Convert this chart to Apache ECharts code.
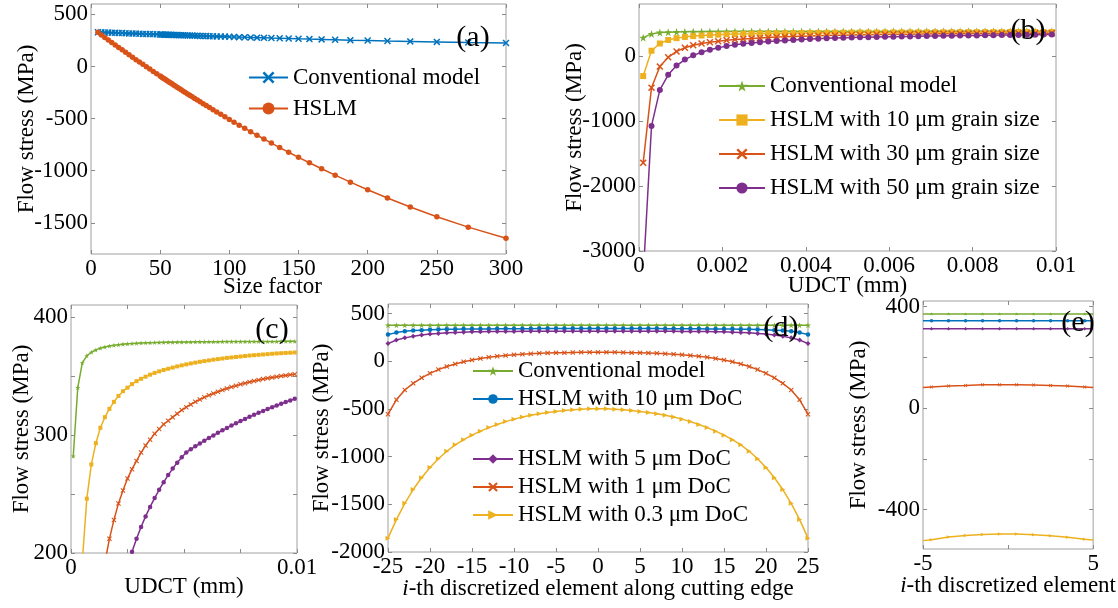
<!DOCTYPE html>
<html>
<head>
<meta charset="utf-8">
<title>Flow stress</title>
<script src="https://cdn.jsdelivr.net/npm/echarts@6/dist/echarts.min.js"></script>
<style>
  html, body { margin: 0; padding: 0; background: #fff; }
  #chart { width: 1118px; height: 608px; }
</style>
</head>
<body>
<div id="chart"></div>
<script>
// (a) flow stress vs size factor
const sizeFactor = [300, 272.7, 250, 230.8, 214.3, 200, 187.5, 176.5, 166.7, 157.9, 150, 142.9, 136.4, 130.4, 125, 120, 115.4, 111.1, 107.1, 103.4, 100,
  96.8, 93.8, 90.9, 88.2, 85.7, 83.3, 81.1, 78.9, 76.9, 75, 73.2, 71.4, 69.8, 68.2, 66.7, 65.2, 63.8, 62.5, 61.2, 60, 58.8, 57.7, 56.6, 55.6, 54.5, 53.6, 52.6, 51.7, 50.8, 50,
  47.5, 45, 42.5, 40, 37.5, 35, 32.5, 30, 27.5, 25, 22.5, 20, 17.5, 15, 12.5, 10, 7.5, 5];
const convA = [225, 230, 236, 241, 245, 250, 253, 257, 260, 263, 266, 269, 271, 273, 275, 277, 279, 281, 282, 284, 285,
  287, 288, 289, 290, 291, 292, 293, 294, 295, 296, 297, 298, 298, 299, 300, 300, 301, 302, 302, 303, 303, 304, 304, 305, 305, 306, 306, 307, 307, 307,
  309, 310, 311, 312, 313, 315, 316, 317, 318, 319, 321, 322, 323, 324, 326, 327, 328, 329];
const hslmA = [-1648, -1542, -1442, -1349, -1262, -1183, -1110, -1043, -982, -924, -872, -823, -778, -735, -696, -660, -626, -593, -563, -534, -508,
  -483, -459, -436, -415, -394, -375, -357, -339, -322, -306, -291, -276, -263, -249, -237, -224, -212, -201, -190, -179, -169, -159, -150, -141, -131, -123, -115, -107, -99, -92,
  -70, -47, -25, -2, 21, 43, 66, 89, 113, 136, 160, 183, 207, 231, 255, 279, 303, 330];

// (b) and (c) flow stress vs UDCT (mm)
const udct = [0.0001, 0.0003, 0.0005, 0.0007, 0.0009, 0.0011, 0.0013, 0.0015, 0.0017, 0.0019, 0.0021, 0.0023, 0.0025, 0.0027, 0.0029, 0.0031, 0.0033,
  0.0035, 0.0037, 0.0039, 0.0041, 0.0043, 0.0045, 0.0047, 0.0049, 0.0051, 0.0053, 0.0055, 0.0057, 0.0059, 0.0061, 0.0063, 0.0065, 0.0067,
  0.0069, 0.0071, 0.0073, 0.0075, 0.0077, 0.0079, 0.0081, 0.0083, 0.0085, 0.0087, 0.0089, 0.0091, 0.0093, 0.0095, 0.0097, 0.0099];
const convB = [282, 340, 361, 367, 370, 372, 373.5, 374.5, 375.3, 375.9, 376.4, 376.8, 377.1, 377.4, 377.6, 377.8, 378, 378.1, 378.2, 378.3,
  378.4, 378.5, 378.5, 378.6, 378.6, 378.7, 378.7, 378.8, 378.8, 378.8, 378.9, 378.9, 378.9, 379, 379, 379, 379, 379, 379, 379,
  379.1, 379.1, 379.1, 379.1, 379.1, 379.1, 379.2, 379.2, 379.2, 379.2];
const grain10 = [-309, 81, 193, 246, 275, 293, 306, 315, 322, 328, 333, 337, 340, 343, 345.5, 347.5, 349.3, 351, 352.5, 353.8,
  355, 356, 357, 358, 358.9, 359.7, 360.5, 361.2, 361.9, 362.5, 363.1, 363.7, 364.2, 364.7, 365.2, 365.6, 366, 366.4, 366.8, 367.2,
  367.5, 367.8, 368.1, 368.4, 368.7, 369, 369.2, 369.4, 369.6, 369.8];
const grain30 = [-1644, -487, -163, -20, 70, 128, 166, 192, 212, 228, 242, 253, 263, 271, 278, 285, 291, 296, 301, 305,
  309, 312, 315, 318, 321, 323.5, 325.8, 328, 330, 331.8, 333.5, 335, 336.5, 338, 339.3, 340.5, 341.7, 342.8, 343.8, 344.8,
  345.7, 346.5, 347.3, 348, 348.7, 349.3, 349.9, 350.4, 350.9, 351.3];
const grain50 = [-3400, -1076, -522, -289, -148, -55, 10, 58, 96, 127, 152, 172, 188, 201, 212, 222, 231, 239, 246.5, 253.5,
  260, 266, 271.5, 276.5, 281, 285.2, 287.8, 290.3, 292.7, 295.1, 297.4, 299.6, 301.8, 303.9, 305.9, 307.9, 309.8, 311.7, 313.5, 315.3,
  317, 318.7, 320.3, 321.9, 323.4, 324.9, 326.4, 327.8, 329.2, 330.6];

// (d) flow stress along the cutting edge
const element = [-25, -24, -23, -22, -21, -20, -19, -18, -17, -16, -15, -14, -13, -12, -11, -10, -9, -8, -7, -6, -5, -4, -3, -2, -1, 0,
  1, 2, 3, 4, 5, 6, 7, 8, 9, 10, 11, 12, 13, 14, 15, 16, 17, 18, 19, 20, 21, 22, 23, 24, 25];
const convD = [377, 377, 377, 377, 377, 377, 377, 377, 377, 377, 377, 377, 377, 377, 377, 377, 377, 377, 377, 377, 377, 377, 377, 377, 377, 377,
  377, 377, 377, 377, 377, 377, 377, 377, 377, 377, 377, 377, 377, 377, 377, 377, 377, 377, 377, 377, 377, 377, 377, 377, 377];
const doc10 = [280, 300, 314, 321, 326, 330, 333, 335, 336, 337, 338, 339, 339, 340, 340, 341, 341, 341, 342, 342, 342, 342, 342, 342, 342, 342,
  342, 342, 342, 342, 342, 342, 342, 341, 341, 341, 340, 340, 339, 339, 338, 337, 336, 335, 333, 330, 326, 321, 314, 300, 280];
const doc5 = [185, 222, 245, 262, 275, 285, 292, 298, 302, 305, 308, 310, 311, 312, 313, 313, 314, 314, 315, 315, 315, 315, 315, 315, 315, 315,
  315, 315, 315, 315, 315, 315, 315, 314, 314, 313, 313, 312, 311, 310, 308, 305, 302, 298, 292, 285, 275, 262, 245, 222, 185];
const doc1 = [-555, -404, -302, -232, -174, -127, -88, -56, -29, -6, 13, 29, 42, 53, 61, 68, 74, 79, 83, 86, 88, 90, 92, 93, 94, 95,
  94, 93, 92, 90, 88, 86, 83, 79, 74, 68, 61, 53, 42, 29, 13, -6, -29, -56, -88, -127, -174, -232, -302, -404, -555];
const doc03 = [-1855, -1660, -1490, -1345, -1222, -1115, -1023, -944, -876, -822, -775, -733, -696, -663, -633, -607, -585, -566, -550, -537, -526, -517, -509, -503, -499, -497,
  -499, -503, -509, -517, -526, -537, -550, -566, -585, -607, -633, -663, -696, -733, -775, -822, -876, -944, -1023, -1115, -1222, -1345, -1490, -1660, -1855];

// (e) central elements
const elementE = [-5, -4.5, -3.5, -2.5, -1.5, -0.5, 0.5, 1.5, 2.5, 3.5, 4.5, 5];
const convE = [371, 371, 371, 371, 371, 371, 371, 371, 371, 371, 371, 371];
const doc10E = [344, 344, 344, 344, 344, 344, 344, 344, 344, 344, 344, 344];
const doc5E = [313, 313, 313, 313, 313, 313, 313, 313, 313, 313, 313, 313];
const doc1E = [81, 83, 87, 89, 92, 92, 92, 91, 89, 87, 83, 81];
const doc03E = [-522, -519, -508, -502, -498, -496, -496, -499, -503, -509, -517, -520];

const FONT = "'Liberation Serif', 'Times New Roman', serif";
const C = { blue: '#0072BD', orange: '#D95319', yellow: '#EDB120', purple: '#7E2F8E', green: '#77AC30' };
const CROSS = 'path://M0,1.5L1.5,0L5,3.5L8.5,0L10,1.5L6.5,5L10,8.5L8.5,10L5,6.5L1.5,10L0,8.5L3.5,5Z';
const STAR = 'path://M5,0.25L6.12,3.71L9.76,3.7L6.81,5.84L7.94,9.3L5,7.15L2.06,9.3L3.19,5.84L0.24,3.7L3.88,3.71Z';
const TRI = 'path://M0,0L10,5L0,10Z';
const TICK = '#8a8a8a';

const txt = { fontFamily: FONT, fontSize: 23, color: '#000' };

function pairs(xs, ys) {
  return xs.map((x, i) => [x, ys[i]]);
}

function line(name, g, xs, ys, color, symbol, size) {
  return {
    name, type: 'line', xAxisIndex: g, yAxisIndex: g,
    data: pairs(xs, ys),
    symbol, symbolSize: size, showAllSymbol: true,
    lineStyle: { color, width: 1.5 },
    itemStyle: { color },
    emphasis: { disabled: true },
    animation: false
  };
}

// main axis (bottom / left) with labels and name
function axis(g, min, max, ticks, labels, name, nameGap, extra) {
  return Object.assign({
    type: 'value', gridIndex: g, min, max,
    axisLine: { show: false, onZero: false },
    splitLine: { show: false },
    axisTick: { inside: true, length: 4, customValues: ticks, lineStyle: { color: TICK } },
    axisLabel: Object.assign({ customValues: labels, margin: 3, formatter: v => String(v) }, txt),
    name, nameLocation: 'middle', nameGap, nameMoveOverlap: false,
    nameTextStyle: Object.assign({}, txt)
  }, extra || {});
}

// mirrored axis (top / right) carrying only the inner ticks
function mirror(g, min, max, ticks, position) {
  return {
    type: 'value', gridIndex: g, min, max, position,
    axisLine: { show: false, onZero: false },
    splitLine: { show: false },
    axisLabel: { show: false },
    axisTick: { inside: true, length: 4, customValues: ticks, lineStyle: { color: TICK } }
  };
}

const xTicksA = [0, 50, 100, 150, 200, 250, 300];
const yTicksA = [-1500, -1000, -500, 0, 500];
const xTicksB = [0, 0.002, 0.004, 0.006, 0.008, 0.01];
const yTicksB = [-3000, -2000, -1000, 0];
const xTicksC = [0, 0.0025, 0.005, 0.0075, 0.01];
const xLabelsC = [0, 0.01];
const yTicksC = [200, 250, 300, 350, 400];
const yLabelsC = [200, 300, 400];
const xTicksD = [-25, -20, -15, -10, -5, 0, 5, 10, 15, 20, 25];
const yTicksD = [-2000, -1500, -1000, -500, 0, 500];
const xTicksE = [-5, 0, 5];
const xLabelsE = [-5, 5];
const yTicksE = [-400, -200, 0, 200, 400];
const yLabelsE = [-400, 0, 400];

const italicName = {
  rich: { it: Object.assign({ fontStyle: 'italic' }, txt) }
};

const grids = [
  { left: 91, top: 4, width: 415, height: 250 },
  { left: 639, top: 4, width: 417, height: 247 },
  { left: 71, top: 305, width: 226, height: 248 },
  { left: 388, top: 304, width: 420, height: 248 },
  { left: 923, top: 301, width: 177, height: 248 }
].map(g => Object.assign({ show: true, borderColor: '#a0a0a0', borderWidth: 1 }, g));

const xAxis = [
  axis(0, 0, 300, xTicksA, xTicksA, 'Size factor', 21,
    { nameTextStyle: Object.assign({ padding: [0, 52, 0, 0] }, txt) }),
  axis(1, 0, 0.01, xTicksB, xTicksB, 'UDCT (mm)', 23),
  axis(2, 0, 0.01, xTicksC, xLabelsC, 'UDCT (mm)', 22),
  axis(3, -25, 25, xTicksD, xTicksD, '{it|i}-th discretized element along cutting edge', 25,
    { nameTextStyle: Object.assign({}, txt, italicName) }),
  axis(4, -5, 5, xTicksE, xLabelsE, '{it|i}-th discretized element', 25,
    { nameTextStyle: Object.assign({}, txt, italicName) }),
  mirror(0, 0, 300, xTicksA, 'top'),
  mirror(1, 0, 0.01, xTicksB, 'top'),
  mirror(2, 0, 0.01, xTicksC, 'top'),
  mirror(3, -25, 25, xTicksD, 'top'),
  mirror(4, -5, 5, xTicksE, 'top')
];

const yAxis = [
  axis(0, -1800, 600, yTicksA, yTicksA, 'Flow stress (MPa)', 53),
  axis(1, -3000, 800, yTicksB, yTicksB, 'Flow stress (MPa)', 53),
  axis(2, 200, 410, yTicksC, yLabelsC, 'Flow stress (MPa)', 38),
  axis(3, -2000, 600, yTicksD, yTicksD, 'Flow stress (MPa)', 55),
  axis(4, -555, 422, yTicksE, yLabelsE, 'Flow stress (MPa)', 53),
  mirror(0, -1800, 600, yTicksA, 'right'),
  mirror(1, -3000, 800, yTicksB, 'right'),
  mirror(2, 200, 410, yTicksC, 'right'),
  mirror(3, -2000, 600, yTicksD, 'right'),
  mirror(4, -555, 422, yTicksE, 'right')
];

const endless = v => (Math.abs(v[0]) === 5 ? 0 : 3.5);

const series = [
  line('Conventional model', 0, sizeFactor, convA, C.blue, CROSS, 7),
  line('HSLM', 0, sizeFactor, hslmA, C.orange, 'circle', 5.5),

  line('Conventional model ', 1, udct, convB, C.green, STAR, 8),
  line('HSLM with 10 μm grain size', 1, udct, grain10, C.yellow, 'rect', 6),
  line('HSLM with 30 μm grain size', 1, udct, grain30, C.orange, CROSS, 7),
  line('HSLM with 50 μm grain size', 1, udct, grain50, C.purple, 'circle', 6),

  line('c1', 2, udct, convB, C.green, STAR, 5),
  line('c2', 2, udct, grain10, C.yellow, 'rect', 4),
  line('c3', 2, udct, grain30, C.orange, CROSS, 5),
  line('c4', 2, udct, grain50, C.purple, 'circle', 4.5),

  line('Conventional model  ', 3, element, convD, C.green, STAR, 6),
  line('HSLM with 10 μm DoC', 3, element, doc10, C.blue, 'circle', 4.5),
  line('HSLM with 5 μm DoC', 3, element, doc5, C.purple, 'diamond', 5),
  line('HSLM with 1 μm DoC', 3, element, doc1, C.orange, CROSS, 5),
  line('HSLM with 0.3 μm DoC', 3, element, doc03, C.yellow, TRI, 5),

  line('e1', 4, elementE, convE, C.green, STAR, endless),
  line('e2', 4, elementE, doc10E, C.blue, 'circle', endless),
  line('e3', 4, elementE, doc5E, C.purple, 'diamond', endless),
  line('e4', 4, elementE, doc1E, C.orange, CROSS, endless),
  line('e5', 4, elementE, doc03E, C.yellow, TRI, endless)
];

function legend(left, top, names, w, h, rowH) {
  return {
    left, top, orient: 'vertical', padding: 0, itemGap: 0,
    itemWidth: w, itemHeight: h, selectedMode: false,
    data: names,
    textStyle: Object.assign({ lineHeight: rowH }, txt)
  };
}

function label(text, x, y) {
  return {
    type: 'text', x, y, z: 100,
    style: { text, fontFamily: FONT, fontSize: 30, fill: '#000', align: 'center', verticalAlign: 'middle' }
  };
}

const chart = echarts.init(document.getElementById('chart'), null, { renderer: 'canvas' });
chart.setOption({
  animation: false,
  backgroundColor: '#fff',
  grid: grids,
  xAxis,
  yAxis,
  legend: [
    legend(248, 62, ['Conventional model', 'HSLM'], 39, 15, 31),
    legend(718, 69, ['Conventional model ', 'HSLM with 10 μm grain size', 'HSLM with 30 μm grain size', 'HSLM with 50 μm grain size'], 46, 14, 34),
    legend(472, 357, ['Conventional model  ', 'HSLM with 10 μm DoC'], 40, 12, 28),
    legend(472, 445, ['HSLM with 5 μm DoC', 'HSLM with 1 μm DoC', 'HSLM with 0.3 μm DoC'], 40, 12, 28)
  ],
  graphic: [
    label('(a)', 473, 38),
    label('(b)', 1028, 31),
    label('(c)', 272, 330),
    label('(d)', 781, 328),
    label('(e)', 1078, 323)
  ],
  series
});
</script>
</body>
</html>
